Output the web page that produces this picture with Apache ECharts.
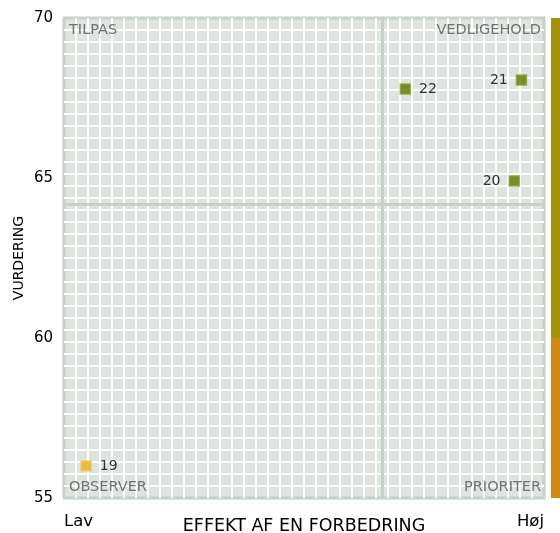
<!DOCTYPE html>
<html><head><meta charset="utf-8">
<script src="https://cdn.jsdelivr.net/npm/echarts@6/dist/echarts.min.js"></script>
<style>html,body{margin:0;padding:0;background:#fff}#c{width:560px;height:533px}</style>
</head><body><div id="c"></div>
<script>
const pointLabels = ['19', '22', '21', '20'];
const effektValues = [4.6, 71.1, 95.3, 93.8];
const vurderingValues = [56.0, 67.78, 68.06, 64.91];
const yTicks = [55, 60, 65, 70];
const xTickLabels = ['Lav', 'Høj'];
const quadrantNames = ['TILPAS', 'VEDLIGEHOLD', 'OBSERVER', 'PRIORITER'];
const bandLimits = [55, 60, 70];

const avgX = effektValues.reduce((a, b) => a + b, 0) / effektValues.length;
const avgY = vurderingValues.reduce((a, b) => a + b, 0) / vurderingValues.length;

const FONT = 'DejaVu Sans';
const data = pointLabels.map((n, i) => {
  const low = vurderingValues[i] < 60;
  const right = effektValues[i] < 90;
  return {
    name: n,
    value: [effektValues[i], vurderingValues[i]],
    itemStyle: low ? {color: '#e6b01a', borderColor: '#f4c94a', borderWidth: 1.5}
                   : {color: '#5a7600', borderColor: '#88a520', borderWidth: 1.5},
    label: {position: right ? 'right' : 'left'}
  };
});

const chart = echarts.init(document.getElementById('c'), null, {renderer: 'canvas'});
const L = 64, R = 16, T = 18, B = 35;
const qFont = '14.5px "DejaVu Sans"';
chart.setOption({
  animation: false,
  grid: [
    {left: L, right: R, top: T, bottom: B, show: true, backgroundColor: '#dfe4e0', borderColor: '#c6d1c8', borderWidth: 3,
     containLabel: false, outerBoundsMode: 'none'},
    {left: 551, right: 0, top: T, bottom: B, containLabel: false, outerBoundsMode: 'none'}
  ],
  xAxis: [
    {gridIndex: 0, type: 'value', min: 0, max: 100, interval: 100,
     name: 'EFFEKT AF EN FORBEDRING', nameLocation: 'middle', nameGap: 19, nameMoveOverlap: false,
     nameTextStyle: {fontFamily: FONT, fontSize: 17.5, color: '#000'},
     axisLine: {show: false}, axisTick: {show: false}, splitLine: {show: false},
     axisLabel: {fontFamily: FONT, fontSize: 16.5, color: '#000', margin: 15,
       alignMinLabel: 'left', alignMaxLabel: 'right',
       formatter: v => v === 0 ? xTickLabels[0] : (v === 100 ? xTickLabels[1] : '')}},
    {gridIndex: 0, type: 'value', min: 0, max: 40, interval: 1,
     axisLine: {show: false}, axisTick: {show: false}, axisLabel: {show: false},
     splitLine: {show: true, showMinLine: false, showMaxLine: false, lineStyle: {color: '#ffffff', width: 2}}},
    {gridIndex: 1, type: 'category', data: ['b'], show: false}
  ],
  yAxis: [
    {gridIndex: 0, type: 'value', min: yTicks[0], max: yTicks[yTicks.length - 1], interval: 5,
     name: 'VURDERING', nameLocation: 'middle', nameGap: 38, nameRotate: 90, nameMoveOverlap: false,
     nameTextStyle: {fontFamily: FONT, fontSize: 14, color: '#000'},
     axisLine: {show: false}, axisTick: {show: false}, splitLine: {show: false},
     axisLabel: {fontFamily: FONT, fontSize: 15, color: '#000', margin: 11}},
    {gridIndex: 0, type: 'value', min: 0, max: 40, interval: 1,
     axisLine: {show: false}, axisTick: {show: false}, axisLabel: {show: false},
     splitLine: {show: true, showMinLine: false, showMaxLine: false, lineStyle: {color: '#ffffff', width: 2}}},
    {gridIndex: 1, type: 'value', min: bandLimits[0], max: bandLimits[2], show: false}
  ],
  series: [
    {type: 'scatter', xAxisIndex: 0, yAxisIndex: 0, symbol: 'rect', symbolSize: 10, z: 5,
     data: data,
     label: {show: true, formatter: '{b}', fontFamily: FONT, fontSize: 14, color: '#000', distance: 8},
     markLine: {silent: true, symbol: 'none', animation: false,
       lineStyle: {color: '#c6d1c8', width: 3, type: 'solid'}, label: {show: false},
       data: [{xAxis: avgX}, {yAxis: avgY}]}},
    {type: 'bar', xAxisIndex: 2, yAxisIndex: 2, stack: 'band', barWidth: '100%',
     itemStyle: {color: '#d1861a'}, data: [bandLimits[1]]},
    {type: 'bar', xAxisIndex: 2, yAxisIndex: 2, stack: 'band', barWidth: '100%',
     itemStyle: {color: '#a3930b'}, data: [bandLimits[2] - bandLimits[1]]}
  ],
  graphic: [
    {type: 'text', z: 100, left: L + 5, top: T + 5, style: {text: quadrantNames[0], font: qFont, fill: '#6b7571'}},
    {type: 'text', z: 100, right: R + 3, top: T + 5, style: {text: quadrantNames[1], font: qFont, fill: '#6b7571'}},
    {type: 'text', z: 100, left: L + 5, bottom: B + 3, style: {text: quadrantNames[2], font: qFont, fill: '#6b7571'}},
    {type: 'text', z: 100, right: R + 3, bottom: B + 3, style: {text: quadrantNames[3], font: qFont, fill: '#6b7571'}}
  ]
});
</script></body></html>
